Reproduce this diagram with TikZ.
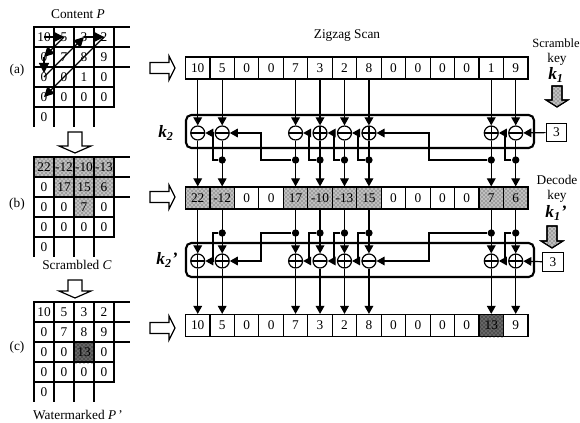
\documentclass[tikz,border=0pt]{standalone}
\usepackage{fontspec}
\setmainfont{Liberation Serif}
\usetikzlibrary{arrows.meta,patterns}
\tikzset{wmfig/.style={x=0.75pt,y=-0.75pt,font=\fontsize{10}{12}\selectfont,line width=0.9pt},
  cell/.style={draw,minimum width=18.35pt,minimum height=16.5pt,inner sep=0pt},
  gcell/.style={draw,minimum width=15pt,minimum height=15pt,inner sep=0pt},
  gtext/.style={inner sep=0pt},
  keylab/.style={font=\fontsize{13}{13}\selectfont\bfseries\itshape},
  opbase/.style={draw,circle,minimum size=10.5pt,inner sep=0pt,fill=white},
  opminus/.style={opbase,path picture={\draw (path picture bounding box.west) -- (path picture bounding box.east);}},
  opplus/.style={opbase,path picture={\draw (path picture bounding box.west) -- (path picture bounding box.east)
    (path picture bounding box.north) -- (path picture bounding box.south);}},
  junc/.style={circle,fill=black,minimum size=5.5pt,inner sep=0pt},
  arr/.style={-{Triangle[length=6pt,width=6.5pt]}},
  bigarr/.style={-{Triangle[length=7.5pt,width=7.5pt]}},
  keybox/.style={draw,minimum width=15.5pt,minimum height=14pt,inner sep=0pt},
  dotfill/.style={preaction={fill=black!25},pattern=crosshatch dots,pattern color=black!80},
  darkfill/.style={preaction={fill=black!60},pattern=crosshatch dots,pattern color=black},
  hollow/.style={line width=0.9pt,fill=white},
  opbox/.style={line width=1.6pt,rounded corners=4pt}}
% one scan grid: prefix, top edge, rows
\newcommand{\scangrid}[3]{
  \foreach \r/\vals in {#3} {
    \foreach \v [count=\c from 0] in \vals
      \node[gcell] (#1\r\c) at ({44+20*\c},{#2+10+20*\r}) {\v};
  }
  \node[gtext] (#140) at (44,{#2+90}) {0};
  \foreach \x in {34,54,74,94} \draw (\x,{#2+80}) -- (\x,{#2+100});
  \foreach \y in {0,20,40} \draw (114,{#2+\y}) -- (130,{#2+\y});
}
\begin{document}
\begin{tikzpicture}[wmfig]
  \useasboundingbox (0,0) rectangle (580,423);
  \def\rowx{185.5}\def\rowstep{24.46}
  \def\upy{133}\def\lowy{261}
  % shading goes first, the cells sit on top
  \fill[dotfill] (34,157) rectangle (114,177) (54,177) rectangle (114,197) (74,197) rectangle (94,217);
  \fill[darkfill] (74,343) rectangle (94,363);
  \foreach \i in {0,1,4,5,6,7,12,13}
    \fill[dotfill] ({\rowx+\rowstep*\i},187) rectangle ({\rowx+\rowstep*(\i+1)},209);
  \fill[darkfill] ({\rowx+\rowstep*12},314) rectangle ({\rowx+\rowstep*13},337);

  % left column
  \scangrid{a}{27}{0/{10,5,3,2},1/{0,7,8,9},2/{0,0,1,0},3/{0,0,0,0}}
  \scangrid{b}{157}{0/{22,-12,-10,-13},1/{0,17,15,6},2/{0,0,7,0},3/{0,0,0,0}}
  \scangrid{c}{302}{0/{10,5,3,2},1/{0,7,8,9},2/{0,0,13,0},3/{0,0,0,0}}
  \node (contentp) at (78,14) {Content \textit{P}};
  \node (scrambc) at (77,265) {Scrambled \textit{C}};
  \node (wmarkp) at (78,415) {Watermarked \textit{P}\,'};
  \node (laba) at (17,70) {(a)};
  \node (labb) at (17,204) {(b)};
  \node (labc) at (17,347) {(c)};
  % zigzag in grid a
  \draw[bigarr] (a00.center) -- (a01.center);
  \draw[bigarr] (a01.center) -- (a10.center);
  \draw[bigarr,shorten >=3pt] (a10.center) -- (a20.center);
  \draw[bigarr] (a20.center) -- (a02.center);
  \draw[bigarr] (a02.center) -- (a03.center);
  \draw[bigarr] (a03.center) -- (a30.center);

  % scan rows
  \foreach \v [count=\i from 0] in {10,5,0,0,7,3,2,8,0,0,0,0,1,9}
    \node[cell] (top\i) at ({\rowx+\rowstep*(\i+0.5)},68) {\v};
  \foreach \v [count=\i from 0] in {22,-12,0,0,17,-10,-13,15,0,0,0,0,7,6}
    \node[cell] (mid\i) at ({\rowx+\rowstep*(\i+0.5)},198) {\v};
  \foreach \v [count=\i from 0] in {10,5,0,0,7,3,2,8,0,0,0,0,13,9}
    \node[cell] (bot\i) at ({\rowx+\rowstep*(\i+0.5)},325.5) {\v};
  \node (zigzag) at (347,36) {Zigzag Scan};

  % operator boxes
  \draw[opbox] (186,115) rectangle (534,148);
  \draw[opbox] (186,243) rectangle (534,277);
  \foreach \i/\s in {0/opminus,1/opminus,4/opminus,5/opplus,6/opminus,7/opplus,12/opplus,13/opminus}
    \node[\s] (uo\i) at ({\rowx+\rowstep*(\i+0.5)},\upy) {};
  \foreach \i/\s in {0/opplus,1/opplus,4/opplus,5/opminus,6/opplus,7/opminus,12/opplus,13/opplus}
    \node[\s] (lo\i) at ({\rowx+\rowstep*(\i+0.5)},\lowy) {};
  \foreach \i in {1,4,5,6,7,12,13} {
    \node[junc] (ud\i) at ({\rowx+\rowstep*(\i+0.5)},160) {};
    \node[junc] (ld\i) at ({\rowx+\rowstep*(\i+0.5)},233) {};
  }
  \foreach \i in {0,1,4,5,6,7,12,13} {
    \draw[arr] (top\i) -- (uo\i);
    \draw[arr] (uo\i) -- (mid\i);
    \draw[arr] (mid\i) -- (lo\i);
    \draw[arr] (lo\i) -- (bot\i);
  }
  % feedback lines, src/dst/x of the bend
  \foreach \s/\d/\vx in {1/0/213,4/1/261,5/4/309,6/5/334,7/6/358,12/7/429,13/12/505} {
    \coordinate (v\s) at (\vx,0);
    \draw[arr] (ud\s) -| (v\s |- uo\d) -- (uo\d);
    \draw[arr] (ld\s) -| (v\s |- lo\d) -- (lo\d);
  }
  \node[keybox] (ukey) at (556.5,132.5) {3};
  \node[keybox] (lkey) at (553,262) {3};
  \draw[arr] (ukey) -- (uo13);
  \draw[arr] (lkey) -- (lo13);
  \node[keylab] (ktwo) at (166,133) {k\textsubscript{2}};
  \node[keylab] (ktwop) at (167,260) {k\textsubscript{2}'};
  \node[font=\fontsize{9.4}{11}\selectfont] (scrkey) at (556,43) {Scramble};
  \node (scrkeyb) at (557,59) {key};
  \node[keylab] (kone) at (556,75) {k\textsubscript{1}};
  \node (deckey) at (557,180) {Decode};
  \node (deckeyb) at (557,196) {key};
  \node[keylab] (konep) at (556,213) {k\textsubscript{1}'};

  % block arrows
  \foreach \y in {68,197,328}
    \draw[hollow] (150,{\y-5.5}) -- (169,{\y-5.5}) -- (169,{\y-12}) -- (175,\y) -- (169,{\y+12}) -- (169,{\y+5.5}) -- (150,{\y+5.5}) -- cycle;
  \foreach \x/\y/\z in {75/132/146,75/280/291}
    \draw[hollow] ({\x-7},\y) -- ({\x+7},\y) -- ({\x+7},\z) -- ({\x+16},\z) -- (\x,{\z+7}) -- ({\x-16},\z) -- ({\x-7},\z) -- cycle;
  \foreach \x/\y/\z in {557/86/100,552/226/241}
    \draw[line width=0.8pt,dotfill,postaction={draw}] ({\x-5},\y) -- ({\x+5},\y) -- ({\x+5},\z) -- ({\x+11},\z) -- (\x,{\z+7}) -- ({\x-11},\z) -- ({\x-5},\z) -- cycle;
\end{tikzpicture}
\end{document}
